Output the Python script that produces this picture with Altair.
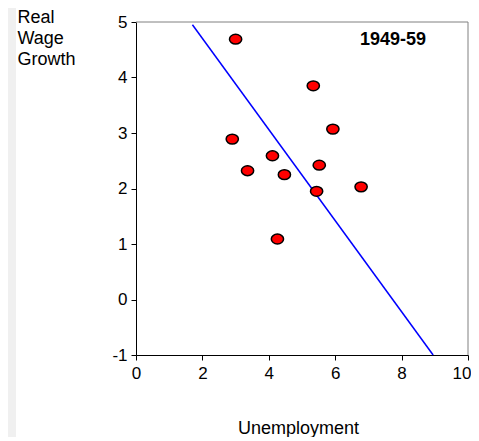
import altair as alt
import pandas as pd

# Scatter data (unemployment %, real wage growth %), 1949-59
unemployment = [3.0, 5.34, 5.93, 2.90, 4.11, 3.36, 4.47, 5.52, 5.44, 6.78, 4.26]
wage_growth = [4.69, 3.85, 3.07, 2.89, 2.59, 2.32, 2.25, 2.42, 1.95, 2.03, 1.09]

# Fitted line endpoints
fit_x = [1.70, 8.95]
fit_y = [4.95, -1.0]

x_ticks = [0, 2, 4, 6, 8, 10]
y_ticks = [-1, 0, 1, 2, 3, 4, 5]
period_label = "1949-59"

pts = pd.DataFrame({"u": unemployment, "w": wage_growth})
fit = pd.DataFrame({"u": fit_x, "w": fit_y})

W, H = 332, 333
FONT = "Liberation Sans"
LBL = "datum.value < 0 ? '-' + abs(datum.value) : '' + datum.value"

xscale = alt.Scale(domain=[0, 10], nice=False, zero=False)
yscale = alt.Scale(domain=[-1, 5], nice=False, zero=False)

xaxis = alt.Axis(
    values=x_ticks, grid=False, domain=True, ticks=True, domainColor="black",
    domainWidth=1, tickColor="black", tickWidth=1,
    tickSize=5, labelPadding=5, labelFontSize=17, labelFont=FONT,
    labelColor="black", labelExpr=LBL,
    labelAlign={"expr": "datum.value >= 10 ? 'right' : 'center'"},
    labelOffset={"expr": "datum.value >= 10 ? 3 : 0"},
    title="Unemployment", titleFont=FONT,
    titleFontSize=18, titleFontWeight="normal", titleColor="black",
    titleAnchor="start", titleAlign="center", titleBaseline="alphabetic",
    titleX=162, titleY=78, labelFlush=False,
)
yaxis = alt.Axis(
    values=y_ticks, grid=False, domain=True, ticks=True, domainColor="black",
    domainWidth=1, tickColor="black", tickWidth=1,
    tickSize=5, labelPadding=4, labelFontSize=17, labelFont=FONT,
    labelColor="black", labelExpr=LBL, title=["Real", "Wage", "Growth"], titleFont=FONT,
    titleFontSize=18, titleFontWeight="normal", titleColor="black",
    titleAngle=0, titleAlign="left", titleBaseline="top",
    titleX=-119, titleY=-14, titleLineHeight=21, labelFlush=False,
)

strip = alt.Chart(pd.DataFrame({"a": [0]})).mark_rect(color="#f0f0f0").encode(
    x=alt.value(-128), x2=alt.value(-120), y=alt.value(-14), y2=alt.value(430)
)

border = alt.Chart(pd.DataFrame({"a": [0]})).mark_rule(color="#808080", strokeWidth=1).encode(
    x=alt.value(0), x2=alt.value(W), y=alt.value(0)
)
border_r = alt.Chart(pd.DataFrame({"a": [0]})).mark_rule(color="#808080", strokeWidth=1).encode(
    x=alt.value(W), y=alt.value(0), y2=alt.value(H)
)

line = alt.Chart(fit).mark_line(color="#0000ff", strokeWidth=1.5).encode(
    x=alt.X("u:Q", scale=xscale, axis=xaxis),
    y=alt.Y("w:Q", scale=yscale, axis=yaxis),
)

ellipse = "M-1,0 A1,0.8 0 1,1 1,0 A1,0.8 0 1,1 -1,0 Z"
points = alt.Chart(pts).mark_point(
    shape=ellipse, filled=True, fill="#ff0000", stroke="black",
    strokeWidth=1.5, size=150, opacity=1,
).encode(
    x=alt.X("u:Q", scale=xscale),
    y=alt.Y("w:Q", scale=yscale),
)

label = alt.Chart(pd.DataFrame({"t": [period_label], "u": [7.74], "w": [4.586]})).mark_text(
    font=FONT, fontSize=18, fontWeight="bold", color="black",
    align="center", baseline="alphabetic",
).encode(
    x=alt.X("u:Q", scale=xscale),
    y=alt.Y("w:Q", scale=yscale),
    text="t:N",
)

chart = alt.layer(strip, border, border_r, line, points, label).properties(
    width=W, height=H,
    autosize=alt.AutoSizeParams(type="none"),
    padding={"left": 128, "top": 14, "right": 3, "bottom": 82},
    background="white",
).configure_view(stroke=None)

chart.save("out.html", embed_options={"renderer": "svg", "actions": False})
